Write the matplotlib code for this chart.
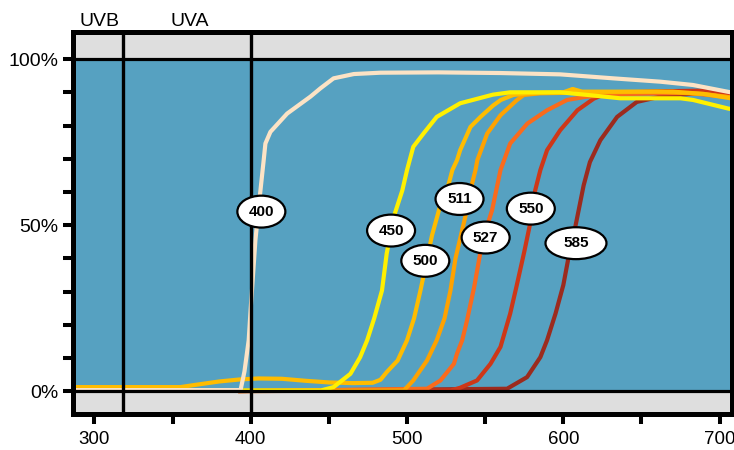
import matplotlib.pyplot as plt
from matplotlib.patches import Ellipse
from matplotlib.ticker import FixedLocator

plt.rcParams['font.family'] = ['Liberation Sans', 'DejaVu Sans']

# prepustnost filtrov [%] v odvisnosti od valovne dolzine [nm]
wl_400 = [287, 393.5, 396, 398.7, 400, 403, 406, 408.3, 409.4, 412.6, 423.3, 438.2, 444.6, 453,
          466, 483, 520, 560, 598, 632, 662, 683, 707]
t_400 = [0.4, 0.4, 6, 15.4, 25, 45.5, 59.5, 69.6, 74.6, 78.1, 83.6, 88.7, 91.2, 94.2,
         95.5, 95.9, 96, 95.8, 95.4, 94.2, 93.2, 92.2, 90]

wl_450 = [392, 445, 453, 463.8, 470, 474.5, 479, 484, 487, 491.5, 497, 500, 504, 510.7, 519,
          534, 555, 566, 598, 620, 636.5, 675, 683, 705.6, 707]
t_450 = [0.3, 0.3, 1.3, 5.3, 10.3, 15.4, 22, 30.4, 41.5, 52.5, 60.5, 66.6, 73.6, 77.7, 82.6,
         86.7, 89.3, 90, 90, 89, 88.2, 88.2, 87.7, 85.1, 85]

wl_500 = [287, 355, 365, 380, 393, 405, 420, 435, 450, 465, 478, 483, 487, 494, 500, 504.5,
          508.6, 512, 516, 521, 526.7, 529, 532, 534, 540.6, 547, 555, 560, 568, 577, 600,
          606, 612, 640, 670, 690, 707]
t_500 = [1.3, 1.3, 2.0, 3.0, 3.6, 3.9, 3.8, 3.2, 2.7, 2.5, 2.6, 3.5, 5.8, 9.3, 15.4, 22,
         30.4, 38, 47, 55.5, 62.5, 66.6, 69.6, 72.6, 79.6, 82.6, 86, 87.7, 89.2, 89.7, 90,
         91, 90.2, 90.2, 90.2, 89.5, 88.2]

wl_511 = [392, 498, 504, 512.8, 519, 524, 527.8, 531, 536, 540, 541.6, 543.8, 545, 551.3,
          559.8, 570.4, 574.7, 585, 620, 660, 690, 707]
t_511 = [0.1, 0.3, 3.3, 9.3, 15.4, 22, 30.4, 40, 50, 58, 62.5, 66.6, 69.6, 77.6,
         83.1, 87.7, 89.2, 89.7, 90, 90.2, 89.5, 88.5]

wl_527 = [392, 512.8, 521.4, 530, 532, 535.3, 538.4, 543, 547, 550, 554.4, 559.8, 566, 577,
          589.6, 602.4, 615, 640, 680, 707]
t_527 = [0.1, 0.8, 3.3, 8.3, 11.4, 15.4, 21.4, 31.5, 42, 48, 54.5, 66.6, 74.6, 80.6,
         84.6, 87.7, 88.7, 89.5, 89.8, 88.5]

wl_550 = [392, 528, 534, 544.8, 553.4, 559.8, 566, 570, 575, 579, 582, 585.3, 589.6, 598,
          609, 619.5, 628, 660, 690, 707]
t_550 = [0.1, 0.3, 1.1, 3.3, 8.3, 13.4, 23.4, 31.5, 42, 51, 60.5, 66.6, 72.6, 78.6,
         84.6, 88.1, 89.7, 90.3, 90.5, 89]

wl_585 = [392, 564, 576.8, 585.3, 589.6, 595, 600, 604, 607, 609.8, 613, 617, 623.7, 634.4,
          647, 662, 680, 700, 707]
t_585 = [0.1, 0.8, 4.3, 10.3, 15.4, 23.4, 32, 42, 48, 54.5, 62, 69, 75.6, 82.6,
         87.1, 88.7, 89.5, 90, 89.5]

krivulje = [
    (wl_585, t_585, '#9C2B1E'),
    (wl_550, t_550, '#CE3718'),
    (wl_527, t_527, '#FA6B1C'),
    (wl_511, t_511, '#FFA200'),
    (wl_500, t_500, '#FFBC00'),
    (wl_450, t_450, '#FFF000'),
    (wl_400, t_400, '#FCE3C5'),
]

# oznake filtrov (sredisce elipse)
oznake = ['400', '450', '500', '511', '527', '550', '585']
oznake_x = [406.8, 489.8, 511.7, 533.6, 550.3, 579.2, 608.1]
oznake_y = [54.1, 48.4, 39.3, 57.9, 46.3, 55.0, 44.6]

meja_uv = [318, 400]

slika = plt.figure(figsize=(7.34, 4.5), dpi=100)
os = slika.add_axes([0.1001, 0.0796, 0.8965, 0.8482])
os.set_facecolor('#56A1C1')
os.set_xlim(286.6, 707.6)
os.set_ylim(-6.85, 108)

os.axhspan(-20, 0, color='#DEDEDE', lw=0, zorder=0)
os.axhspan(100, 130, color='#DEDEDE', lw=0, zorder=0)

for i, (x, y, c) in enumerate(krivulje):
    os.plot(x, y, color=c, lw=3, solid_joinstyle='round', solid_capstyle='butt', zorder=3 + i)

os.axhline(0, color='black', lw=2.3, zorder=12)
os.axhline(100, color='black', lw=2.3, zorder=12)
for m in meja_uv:
    os.axvline(m, color='black', lw=2.4, zorder=12)

for t, x, y in zip(oznake, oznake_x, oznake_y):
    sirina = 39 if t == '585' else 30.7
    os.add_patch(Ellipse((x, y), sirina, 9.6, facecolor='white', edgecolor='black',
                         lw=1.6, zorder=14))
    os.text(x, y, t, ha='center', va='center', fontsize=11, fontweight='bold', zorder=15)

os.text(303.3, 1.017, 'UVB', transform=os.get_xaxis_transform(),
        ha='center', va='baseline', fontsize=14)
os.text(361, 1.017, 'UVA', transform=os.get_xaxis_transform(),
        ha='center', va='baseline', fontsize=14)

for s in os.spines.values():
    s.set_linewidth(3.6)
    s.set_zorder(20)

os.xaxis.set_major_locator(FixedLocator([300, 400, 500, 600, 700]))
os.xaxis.set_minor_locator(FixedLocator([350, 450, 550, 650]))
os.yaxis.set_major_locator(FixedLocator([0, 50, 100]))
os.yaxis.set_minor_locator(FixedLocator([10, 20, 30, 40, 60, 70, 80, 90]))
os.set_yticklabels(['0%', '50%', '100%'])
os.tick_params(which='both', direction='out', length=7.3, width=2.9, color='black')
os.tick_params(axis='y', which='major', pad=3.6, labelsize=14)
os.tick_params(axis='x', which='major', pad=5, labelsize=13.5)

slika.savefig('out.png', dpi=100)
